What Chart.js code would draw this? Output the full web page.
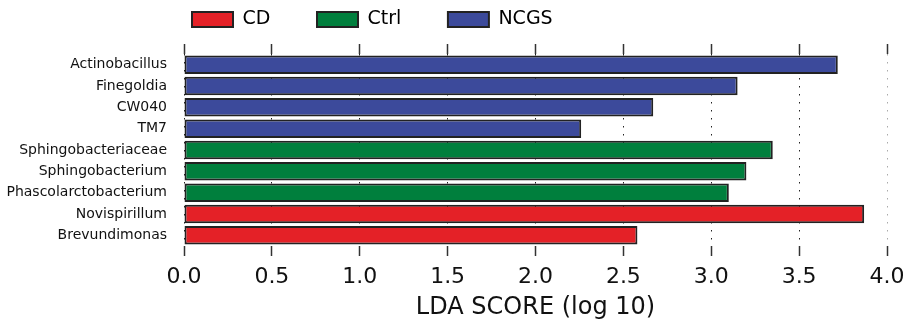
<!DOCTYPE html>
<html lang="en">
<head>
    <meta charset="UTF-8">
    <title>LDA score</title>
    <style>
        * { margin: 0; padding: 0; box-sizing: border-box; }
        body { background: #fff; width: 910px; height: 323px; overflow: hidden; }
        canvas { display: block; }
    </style>
    <script src="https://cdn.jsdelivr.net/npm/chart.js"></script>
</head>
<body>
    <canvas id="lda" width="910" height="323"></canvas>

    <script>
        // values, top row first
        const taxa = ['Actinobacillus', 'Finegoldia', 'CW040', 'TM7', 'Sphingobacteriaceae',
            'Sphingobacterium', 'Phascolarctobacterium', 'Novispirillum', 'Brevundimonas'];
        const ldaScores = [3.72, 3.15, 2.67, 2.26, 3.35, 3.20, 3.10, 3.87, 2.58];
        const groupOf = ['NCGS', 'NCGS', 'NCGS', 'NCGS', 'Ctrl', 'Ctrl', 'Ctrl', 'CD', 'CD'];
        const groups = ['CD', 'Ctrl', 'NCGS'];
        const groupColors = { CD: '#e42127', Ctrl: '#007f3d', NCGS: '#3c4a9b' };
        const xTicks = [0, 0.5, 1, 1.5, 2, 2.5, 3, 3.5, 4];

        const edge = '#222';
        const font = 'DejaVu Sans';
        const legendGap = 46.6;

        // nudge the legend to where the original sits (upper left of the plot)
        const legendShift = {
            id: 'legendShift',
            afterLayout(chart) {
                chart.legend.left = 192 - legendGap;
                chart.legend.top = 10 - legendGap;
            }
        };

        new Chart(document.getElementById('lda'), {
            type: 'bar',
            data: {
                labels: taxa,
                datasets: [{
                    data: ldaScores,
                    backgroundColor: groupOf.map(g => groupColors[g]),
                    borderColor: edge,
                    borderWidth: 2,
                    borderSkipped: false,
                    categoryPercentage: 1,
                    barPercentage: 0.87
                }]
            },
            options: {
                indexAxis: 'y',
                responsive: false,
                animation: false,
                layout: { padding: { left: 0, right: 23, top: 0, bottom: 0 } },
                plugins: {
                    tooltip: { enabled: false },
                    legend: {
                        position: 'top',
                        align: 'start',
                        maxHeight: 44,
                        labels: {
                            boxWidth: 41,
                            boxHeight: 15,
                            padding: legendGap,
                            color: '#111',
                            font: { family: font, size: 19 },
                            generateLabels: () => groups.map((g, i) => ({
                                text: g,
                                fillStyle: groupColors[g],
                                strokeStyle: edge,
                                lineWidth: 2,
                                hidden: false,
                                datasetIndex: 0,
                                index: i
                            }))
                        }
                    }
                },
                scales: {
                    x: {
                        position: 'bottom',
                        min: 0,
                        max: 4,
                        afterBuildTicks: s => { s.ticks = xTicks.map(v => ({ value: v })); },
                        afterFit: s => {
                            s.height = 323 - 246;
                            s.paddingLeft = 0;
                            s.paddingRight = 0;
                        },
                        ticks: {
                            padding: 8,
                            color: '#111',
                            font: { family: font, size: 22 },
                            callback: v => v.toFixed(1)
                        },
                        grid: {
                            color: c => (c.tick && c.tick.value === 4) ? '#aaa' : '#222',
                            lineWidth: 1,
                            tickLength: 10,
                            tickColor: '#333',
                            tickWidth: 1.5,
                            tickBorderDash: []
                        },
                        border: { display: false, dash: [1.5, 6.5] },
                        title: {
                            display: true,
                            text: 'LDA SCORE (log 10)',
                            color: '#111',
                            font: { family: font, size: 24 },
                            padding: { top: 0, bottom: 1 }
                        }
                    },
                    xTop: {
                        type: 'linear',
                        position: 'top',
                        min: 0,
                        max: 4,
                        afterBuildTicks: s => { s.ticks = xTicks.map(v => ({ value: v })); },
                        afterFit: s => {
                            s.height = 10;
                            s.paddingLeft = 0;
                            s.paddingRight = 0;
                        },
                        ticks: { display: false },
                        grid: {
                            drawOnChartArea: false,
                            tickLength: 10,
                            tickColor: '#333',
                            tickWidth: 1.5
                        },
                        border: { display: false }
                    },
                    y: {
                        afterFit: s => { s.width = 184; },
                        ticks: {
                            padding: 9,
                            color: '#111',
                            font: { family: font, size: 14 }
                        },
                        grid: { display: false },
                        border: { display: false }
                    }
                }
            },
            plugins: [legendShift]
        });
    </script>
</body>
</html>
